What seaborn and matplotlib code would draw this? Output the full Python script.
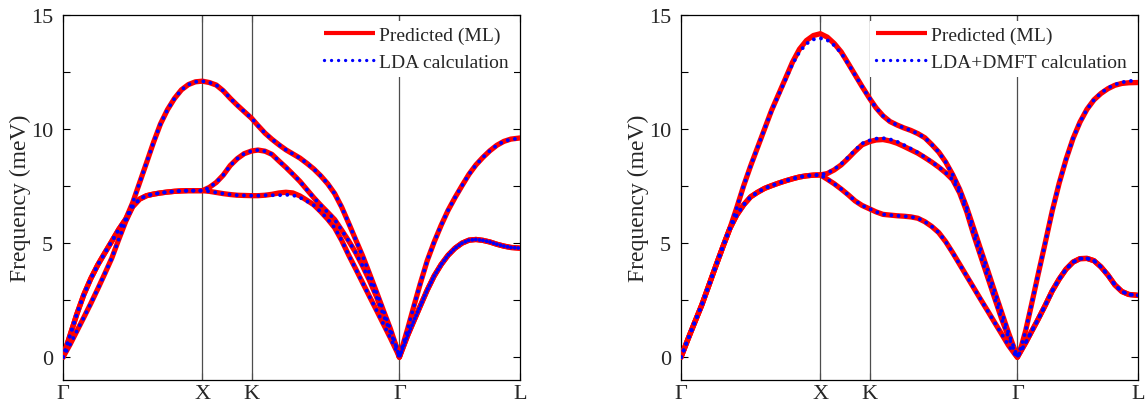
import matplotlib
matplotlib.use("Agg")
import matplotlib.pyplot as plt
from matplotlib.lines import Line2D
from matplotlib.ticker import MultipleLocator
import seaborn as sns

# ---------------- data ----------------
# path coordinate (Gamma - X - K - Gamma - L)
k = [0, 0.05, 0.1, 0.15, 0.2, 0.25, 0.3, 0.35, 0.4, 0.45, 0.5, 0.55, 0.6, 0.65, 0.7, 0.75, 0.8, 0.85, 0.9, 0.95, 1.0,
     1.05, 1.1, 1.15, 1.2, 1.25, 1.3, 1.354,
     1.40, 1.45, 1.50, 1.55, 1.60, 1.65, 1.70, 1.75, 1.80, 1.85, 1.90, 1.95, 2.00, 2.05, 2.10, 2.15, 2.20, 2.25, 2.30, 2.35, 2.40, 2.414,
     2.444, 2.474, 2.514, 2.564, 2.614, 2.664, 2.714, 2.764, 2.814, 2.864, 2.914, 2.964, 3.014, 3.064, 3.114, 3.164, 3.214, 3.280]
tick_pos = [0, 1.0, 1.354, 2.414, 3.280]
tick_labels = ["Γ", "X", "K", "Γ", "L"]
vlines = [1.0, 1.354, 2.414]

# ---- left panel: Predicted (ML)
left_ml_b1 = [0, 0.55, 1.15, 1.75, 2.36, 3.0, 3.66, 4.34, 5.16, 5.95, 6.6, 6.93, 7.08, 7.15, 7.2, 7.24, 7.27, 7.29, 7.3, 7.3, 7.3,
              7.27, 7.22, 7.17, 7.13, 7.1, 7.09, 7.08,
              7.08, 7.1, 7.14, 7.2, 7.23, 7.2, 7.07, 6.88, 6.68, 6.38, 6.05, 5.67, 5.12, 4.48, 3.88, 3.27, 2.66, 2.06, 1.45, 0.84, 0.2, 0,
              0.48, 0.96, 1.53, 2.24, 2.94, 3.56, 4.06, 4.47, 4.78, 5.0, 5.13, 5.16, 5.12, 5.05, 4.95, 4.87, 4.81, 4.78]
left_ml_b2 = [0, 0.95, 1.9, 2.75, 3.45, 4.05, 4.57, 5.08, 5.6, 6.05, 6.6, 6.93, 7.08, 7.15, 7.2, 7.24, 7.27, 7.29, 7.3, 7.3, 7.3,
              7.44, 7.66, 7.98, 8.4, 8.7, 8.92, 9.04,
              9.08, 9.03, 8.89, 8.6, 8.32, 8.02, 7.71, 7.35, 6.99, 6.66, 6.35, 6.03, 5.57, 5.1, 4.59, 4.0, 3.36, 2.65, 1.85, 1.09, 0.33, 0,
              0.48, 0.96, 1.53, 2.24, 2.94, 3.56, 4.06, 4.47, 4.78, 5.0, 5.13, 5.16, 5.12, 5.05, 4.95, 4.87, 4.81, 4.78]
left_ml_b3 = [0, 0.95, 1.9, 2.75, 3.45, 4.05, 4.57, 5.08, 5.6, 6.05, 6.77, 7.65, 8.53, 9.42, 10.23, 10.85, 11.34, 11.72, 11.95, 12.07, 12.1,
              12.04, 11.93, 11.68, 11.35, 11.05, 10.77, 10.47,
              10.15, 9.82, 9.55, 9.31, 9.09, 8.91, 8.73, 8.5, 8.25, 7.95, 7.6, 7.17, 6.58, 5.88, 5.16, 4.45, 3.66, 2.86, 2.04, 1.24, 0.32, 0,
              0.63, 1.25, 2.14, 3.22, 4.23, 5.05, 5.78, 6.44, 7.0, 7.52, 8.02, 8.43, 8.76, 9.05, 9.29, 9.46, 9.56, 9.61]
# ---- left panel: LDA calculation
left_calc_b1 = [0, 0.55, 1.15, 1.75, 2.36, 3.0, 3.66, 4.34, 5.16, 5.95, 6.6, 6.93, 7.08, 7.15, 7.2, 7.24, 7.27, 7.29, 7.3, 7.3, 7.3,
                7.27, 7.22, 7.17, 7.13, 7.1, 7.09, 7.08,
                7.08, 7.1, 7.1, 7.1, 7.12, 7.1, 7.0, 6.84, 6.66, 6.37, 6.05, 5.67, 5.12, 4.48, 3.88, 3.27, 2.66, 2.06, 1.45, 0.84, 0.2, 0,
                0.48, 0.96, 1.53, 2.24, 2.94, 3.56, 4.06, 4.47, 4.78, 5.0, 5.13, 5.16, 5.12, 5.05, 4.95, 4.87, 4.81, 4.78]
left_calc_b2 = [0, 0.95, 1.9, 2.75, 3.45, 4.05, 4.57, 5.08, 5.6, 6.05, 6.6, 6.93, 7.08, 7.15, 7.2, 7.24, 7.27, 7.29, 7.3, 7.3, 7.3,
                7.44, 7.66, 7.98, 8.4, 8.7, 8.92, 9.04,
                9.08, 9.03, 8.89, 8.6, 8.32, 8.02, 7.71, 7.35, 6.99, 6.66, 6.35, 6.03, 5.57, 5.1, 4.59, 4.0, 3.36, 2.65, 1.85, 1.09, 0.33, 0,
                0.48, 0.96, 1.53, 2.24, 2.94, 3.56, 4.06, 4.47, 4.78, 5.0, 5.13, 5.16, 5.12, 5.05, 4.95, 4.87, 4.81, 4.78]
left_calc_b3 = [0, 0.95, 1.9, 2.75, 3.45, 4.05, 4.57, 5.08, 5.6, 6.05, 6.77, 7.65, 8.53, 9.42, 10.23, 10.85, 11.34, 11.72, 11.95, 12.07, 12.1,
                12.04, 11.93, 11.68, 11.35, 11.05, 10.77, 10.47,
                10.15, 9.82, 9.55, 9.31, 9.09, 8.91, 8.73, 8.5, 8.25, 7.95, 7.6, 7.17, 6.58, 5.88, 5.16, 4.45, 3.66, 2.86, 2.04, 1.24, 0.32, 0,
                0.63, 1.25, 2.14, 3.22, 4.23, 5.05, 5.78, 6.44, 7.0, 7.52, 8.02, 8.43, 8.76, 9.05, 9.29, 9.46, 9.55, 9.59]

# ---- right panel: Predicted (ML)
right_ml_b1 = [0, 0.79, 1.55, 2.3, 3.15, 4.0, 4.83, 5.63, 6.23, 6.68, 7.03, 7.23, 7.4, 7.52, 7.63, 7.73, 7.82, 7.9, 7.95, 7.98, 7.99,
               7.8, 7.6, 7.37, 7.12, 6.85, 6.65, 6.5,
               6.37, 6.26, 6.23, 6.2, 6.18, 6.15, 6.09, 5.94, 5.73, 5.46, 5.06, 4.58, 4.07, 3.56, 3.05, 2.54, 2.04, 1.53, 1.03, 0.52, 0.1, 0,
               0.32, 0.64, 1.1, 1.67, 2.27, 2.9, 3.42, 3.86, 4.17, 4.32, 4.33, 4.23, 3.96, 3.6, 3.17, 2.88, 2.75, 2.71]
right_ml_b2 = [0, 0.79, 1.55, 2.3, 3.15, 4.0, 4.83, 5.63, 6.23, 6.68, 7.03, 7.23, 7.4, 7.52, 7.63, 7.73, 7.82, 7.9, 7.95, 7.98, 7.99,
               8.05, 8.21, 8.43, 8.72, 9.03, 9.31, 9.45,
               9.52, 9.54, 9.48, 9.38, 9.24, 9.09, 8.94, 8.75, 8.55, 8.33, 8.08, 7.78, 7.2, 6.39, 5.38, 4.45, 3.53, 2.61, 1.7, 0.89, 0.18, 0,
               0.32, 0.64, 1.1, 1.67, 2.27, 2.9, 3.42, 3.86, 4.17, 4.32, 4.33, 4.23, 3.96, 3.6, 3.17, 2.88, 2.75, 2.71]
right_ml_b3 = [0, 0.79, 1.55, 2.3, 3.15, 4.0, 4.83, 5.63, 6.55, 7.52, 8.39, 9.2, 10.01, 10.82, 11.52, 12.22, 12.93, 13.5, 13.88, 14.1, 14.18,
               14.03, 13.75, 13.38, 12.88, 12.37, 11.86, 11.34,
               10.93, 10.58, 10.33, 10.18, 10.05, 9.94, 9.8, 9.62, 9.32, 8.99, 8.55, 8.0, 7.36, 6.57, 5.66, 4.74, 3.83, 2.9, 1.99, 1.08, 0.25, 0,
               0.5, 1.17, 2.26, 3.65, 5.01, 6.4, 7.62, 8.68, 9.59, 10.31, 10.87, 11.28, 11.56, 11.77, 11.92, 12.0, 12.03, 12.04]
# ---- right panel: LDA+DMFT calculation
right_calc_b1 = [0, 0.79, 1.55, 2.3, 3.15, 4.0, 4.83, 5.63, 6.23, 6.68, 7.03, 7.23, 7.4, 7.52, 7.63, 7.73, 7.82, 7.9, 7.95, 7.98, 7.99,
                 7.8, 7.6, 7.37, 7.12, 6.85, 6.65, 6.5,
                 6.37, 6.26, 6.23, 6.2, 6.18, 6.15, 6.09, 5.94, 5.73, 5.46, 5.06, 4.58, 4.07, 3.56, 3.05, 2.54, 2.04, 1.53, 1.03, 0.52, 0.1, 0,
                 0.32, 0.64, 1.1, 1.67, 2.27, 2.9, 3.42, 3.86, 4.17, 4.32, 4.33, 4.23, 3.96, 3.6, 3.17, 2.88, 2.75, 2.71]
right_calc_b2 = [0, 0.79, 1.55, 2.3, 3.15, 4.0, 4.83, 5.63, 6.23, 6.68, 7.03, 7.23, 7.4, 7.52, 7.63, 7.73, 7.82, 7.9, 7.95, 7.98, 7.99,
                 8.07, 8.24, 8.47, 8.77, 9.08, 9.37, 9.5,
                 9.58, 9.6, 9.55, 9.45, 9.3, 9.14, 8.97, 8.77, 8.56, 8.34, 8.09, 7.78, 7.2, 6.39, 5.38, 4.45, 3.53, 2.61, 1.7, 0.89, 0.18, 0,
                 0.32, 0.64, 1.1, 1.67, 2.27, 2.9, 3.42, 3.86, 4.17, 4.32, 4.33, 4.23, 3.96, 3.6, 3.17, 2.88, 2.75, 2.71]
right_calc_b3 = [0, 0.79, 1.55, 2.3, 3.15, 4.0, 4.83, 5.63, 6.55, 7.52, 8.39, 9.2, 10.01, 10.8, 11.49, 12.17, 12.85, 13.38, 13.74, 13.93, 13.98,
                 13.9, 13.67, 13.33, 12.86, 12.36, 11.86, 11.34,
                 10.93, 10.58, 10.33, 10.18, 10.05, 9.94, 9.8, 9.62, 9.32, 8.99, 8.55, 8.0, 7.36, 6.57, 5.66, 4.74, 3.83, 2.9, 1.99, 1.08, 0.25, 0,
                 0.5, 1.17, 2.26, 3.65, 5.01, 6.4, 7.62, 8.68, 9.59, 10.31, 10.87, 11.28, 11.58, 11.8, 11.95, 12.05, 12.1, 12.14]

legend_left = ["Predicted (ML)", "LDA calculation"]
legend_right = ["Predicted (ML)", "LDA+DMFT calculation"]
ylabel = "Frequency (meV)"

# ---------------- style ----------------
sns.set_style("white")
plt.rcParams["font.family"] = ["Liberation Serif", "DejaVu Serif"]

RED = "#ff0000"
BLUE = "#0000ff"
RED_LW = 3.8
BLUE_LW = 2.8
DOT = (0, (0.01, 1.85))

fig = plt.figure(figsize=(11.46, 4.10), dpi=100)
W, H = 1146, 410
axL = fig.add_axes([63 / W, 1 - 381 / H, 457 / W, 365 / H])
axR = fig.add_axes([681 / W, 1 - 381 / H, 457 / W, 365 / H])

panels = [
    (axL, [left_ml_b1, left_ml_b2, left_ml_b3], [left_calc_b1, left_calc_b2, left_calc_b3], legend_left),
    (axR, [right_ml_b1, right_ml_b2, right_ml_b3], [right_calc_b1, right_calc_b2, right_calc_b3], legend_right),
]

for ax, ml, calc, leg in panels:
    for v in vlines:
        ax.axvline(v, color="0.3", lw=0.9, zorder=1)
    for band in ml:
        sns.lineplot(x=k, y=band, ax=ax, color=RED, lw=RED_LW, sort=False, estimator=None)
        ln = ax.lines[-1]
        ln.set_solid_capstyle("round")
        ln.set_solid_joinstyle("round")
        ln.set_zorder(3)
    for band in calc:
        sns.lineplot(x=k, y=band, ax=ax, color=BLUE, lw=BLUE_LW, sort=False, estimator=None)
        ln = ax.lines[-1]
        ln.set_linestyle(DOT)
        ln.set_dash_capstyle("round")
        ln.set_zorder(4)

    ax.set_xlim(tick_pos[0], tick_pos[-1])
    ax.set_ylim(-1, 15)
    ax.set_xticks(tick_pos)
    ax.set_xticklabels(tick_labels, fontsize=16)
    ax.set_yticks([0, 5, 10, 15])
    ax.set_yticklabels(["0", "5", "10", "15"], fontsize=16)
    ax.yaxis.set_minor_locator(MultipleLocator(2.5))
    ax.tick_params(axis="y", which="both", direction="in", left=True, right=True,
                   length=5, width=0.8, color="black", pad=7)
    ax.tick_params(axis="x", which="both", direction="in", bottom=True, top=True,
                   length=5, width=0.8, color="black", pad=3)
    ax.set_ylabel(ylabel, fontsize=17, labelpad=0)
    ax.set_xlabel("")
    for s in ax.spines.values():
        s.set_visible(True)
        s.set_color("black")
        s.set_linewidth(0.9)

    handles = [Line2D([], [], color=RED, lw=3.0, solid_capstyle="butt"),
               Line2D([], [], color=BLUE, lw=2.4, linestyle=(0, (0.01, 2.1)),
                      dash_capstyle="round")]
    lg = ax.legend(handles, leg, loc="upper right", fontsize=14, frameon=True,
                   facecolor="white", edgecolor="none", framealpha=1.0,
                   borderaxespad=0.3, borderpad=0.3, handlelength=2.6,
                   handletextpad=0.2, labelspacing=0.45, fancybox=False)
    lg.set_zorder(5)

fig.savefig("out.png", dpi=100, facecolor="white")
